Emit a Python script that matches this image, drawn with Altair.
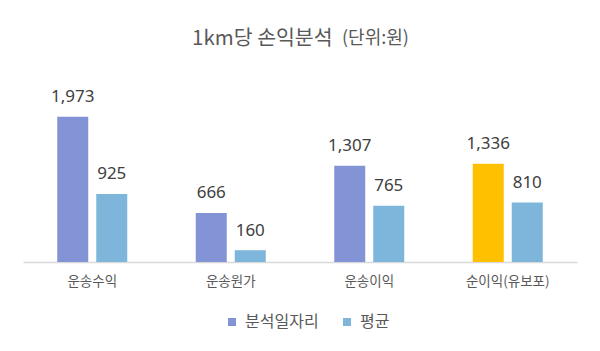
import altair as alt
import pandas as pd

categories = ["운송수익", "운송원가", "운송이익", "순이익(유보포)"]
series_names = ["분석일자리", "평균"]
analysis_values = [1973, 666, 1307, 1336]
average_values = [925, 160, 765, 810]
highlight_category = "순이익(유보포)"
title_main = "1km당 손익분석"
title_unit = "(단위:원)"

rows = []
for c, a, v in zip(categories, analysis_values, average_values):
    rows.append({"category": c, "series": series_names[0], "value": a, "hl": c == highlight_category})
    rows.append({"category": c, "series": series_names[1], "value": v, "hl": False})
df = pd.DataFrame(rows)

KR = "Noto Sans CJK KR"
PURPLE = "#8394D6"
LIGHT = "#7EB6DB"
YELLOW = "#FFC000"

x = alt.X(
    "category:N", sort=categories,
    scale=alt.Scale(paddingInner=0, paddingOuter=0),
    axis=alt.Axis(title=None, labelAngle=0, labelFont=KR, labelFontSize=13.5,
                  labelColor="#595959", labelPadding=12, ticks=False,
                  domainColor="#d9d9d9", domainWidth=1.5, grid=False),
)
xo = alt.XOffset("series:N", sort=series_names,
                 scale=alt.Scale(paddingInner=0.205, paddingOuter=0.878))
y = alt.Y("value:Q", scale=alt.Scale(domain=[0, 2500], nice=False, zero=True), axis=None)

base = alt.Chart(df)

bars = base.mark_bar().encode(
    x=x, xOffset=xo, y=y,
    color=alt.condition(
        "datum.hl",
        alt.value(YELLOW),
        alt.Color("series:N", sort=series_names,
                  scale=alt.Scale(domain=series_names, range=[PURPLE, LIGHT]),
                  legend=alt.Legend(title=None, orient="none", direction="horizontal",
                                    legendX=201, legendY=236, symbolType="square",
                                    symbolSize=64, symbolStrokeWidth=0,
                                    labelFont=KR, labelFontSize=16, labelColor="#595959",
                                    labelOffset=5, columnPadding=20)),
    ),
)

labels = base.mark_text(dy=-14.5, baseline="alphabetic", font="Noto Sans",
                        fontSize=17, color="#404040").encode(
    x=x, xOffset=xo, y=y, text=alt.Text("value:Q", format=","),
)

t1 = alt.Chart(pd.DataFrame({"t": [title_main]})).mark_text(
    align="left", baseline="alphabetic", font=KR, fontSize=20.5, color="#595959"
).encode(text="t:N", x=alt.value(169), y=alt.value(-33))

t2 = alt.Chart(pd.DataFrame({"t": [title_unit]})).mark_text(
    align="left", baseline="alphabetic", font=KR, fontSize=18, color="#595959"
).encode(text="t:N", x=alt.value(319), y=alt.value(-34))

chart = alt.layer(bars, labels, t1, t2).properties(
    width=554, height=184,
    padding={"left": 23, "top": 78, "right": 23, "bottom": 89},
    autosize="none",
).configure_view(stroke=None)

chart.save("out.html", embed_options={"renderer": "svg", "actions": False})
